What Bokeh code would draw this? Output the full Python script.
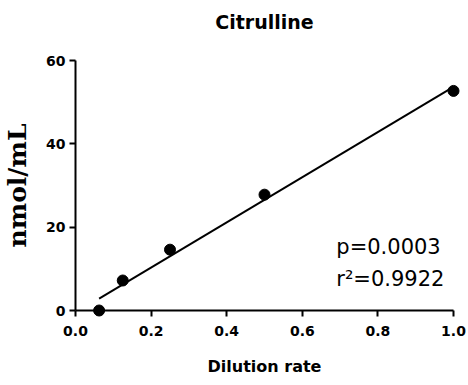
from bokeh.plotting import figure
from bokeh.models import Range1d, NumeralTickFormatter, FixedTicker, Label, Title
from bokeh.embed import file_html
from bokeh.resources import INLINE
import numpy as np

dilution = [0.0625, 0.125, 0.25, 0.5, 1.0]
citrulline = [0.0, 7.2, 14.6, 27.8, 52.7]
x_ticks = [0.0, 0.2, 0.4, 0.6, 0.8, 1.0]
y_ticks = [0, 20, 40, 60]
title_text = "Citrulline"
p_text = "p=0.0003"
r2_text = "r²=0.9922"

slope, intercept = np.polyfit(dilution, citrulline, 1)
fit_x = [min(dilution), max(dilution)]
fit_y = [slope * v + intercept for v in fit_x]

p = figure(width=468, height=385, output_backend="svg", toolbar_location=None,
           x_range=Range1d(0, 1), y_range=Range1d(0, 60),
           min_border_left=73, min_border_right=15, min_border_top=60, min_border_bottom=75,
           title=None)

spacer = Title(text=" ", text_font_size="1px", standoff=18)
p.add_layout(spacer, "above")
main_title = Title(text=title_text, align="center", text_font="DejaVu Sans",
                   text_font_size="19px", text_font_style="bold", text_color="black",
                   standoff=13)
p.add_layout(main_title, "above")

p.outline_line_color = None
p.grid.grid_line_color = None
p.background_fill_color = "white"
p.border_fill_color = "white"

for ax in (p.xaxis, p.yaxis):
    ax.axis_line_width = 2
    ax.axis_line_color = "black"
    ax.major_tick_line_width = 2
    ax.major_tick_line_color = "black"
    ax.major_tick_out = 6
    ax.major_tick_in = 0
    ax.minor_tick_line_color = None
    ax.major_label_text_font = "DejaVu Sans"
    ax.major_label_text_font_style = "bold"
    ax.major_label_text_font_size = "14px"
    ax.major_label_text_color = "black"
    ax.axis_label_text_color = "black"

p.xaxis.ticker = FixedTicker(ticks=x_ticks)
p.yaxis.ticker = FixedTicker(ticks=y_ticks)
p.xaxis.formatter = NumeralTickFormatter(format="0.0")
p.yaxis.formatter = NumeralTickFormatter(format="0")
p.xaxis.major_label_standoff = 9
p.yaxis.major_label_standoff = 4

p.xaxis.axis_label = "Dilution rate"
p.xaxis.axis_label_text_font = "DejaVu Sans"
p.xaxis.axis_label_text_font_style = "bold"
p.xaxis.axis_label_text_font_size = "16px"
p.xaxis.axis_label_standoff = 18

p.yaxis.axis_label = "nmol/mL"
p.yaxis.axis_label_text_font = "DejaVu Serif"
p.yaxis.axis_label_text_font_style = "bold"
p.yaxis.axis_label_text_font_size = "25px"
p.yaxis.axis_label_standoff = 11

p.line(fit_x, fit_y, line_color="black", line_width=2)
p.scatter(dilution, citrulline, size=11, color="black", level="overlay")

p.add_layout(Label(x=0.69, y=15.3, text=p_text, text_font="DejaVu Sans",
                   text_font_size="21px", text_baseline="middle", text_color="black"))
p.add_layout(Label(x=0.69, y=7.6, text=r2_text, text_font="DejaVu Sans",
                   text_font_size="21px", text_baseline="middle", text_color="black"))

open("out.html", "w").write(file_html(p, INLINE))
